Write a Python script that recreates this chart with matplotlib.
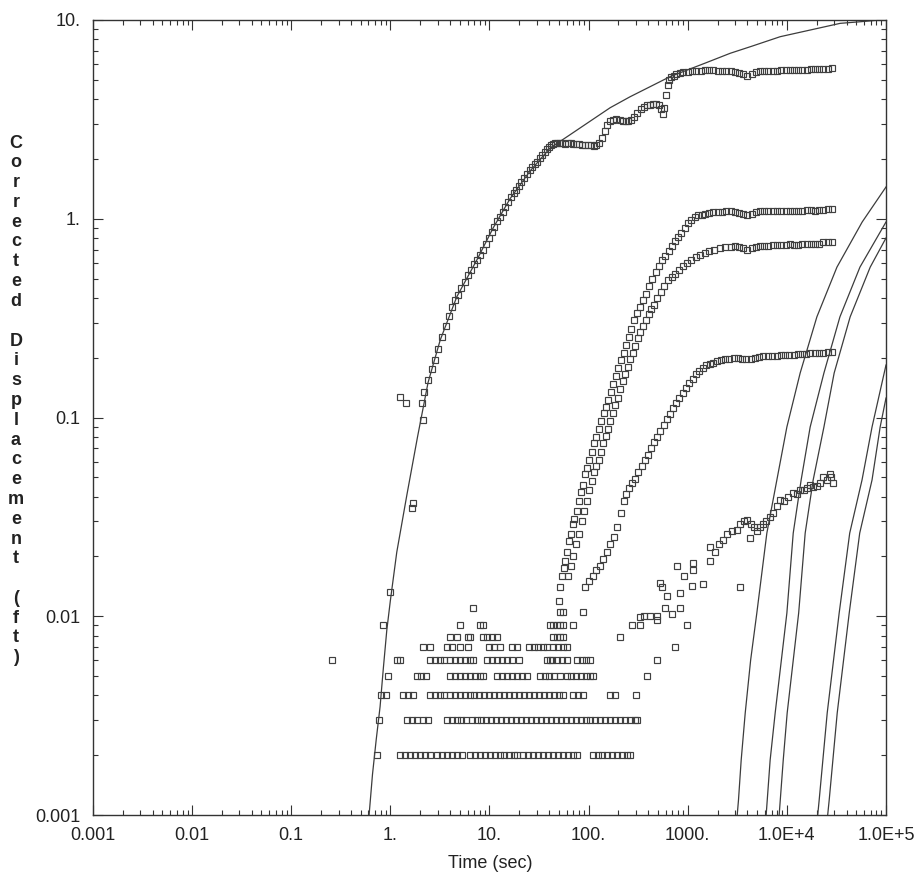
#!/usr/bin/env python3
# -*- coding: utf-8 -*-
"""
Corrected displacement vs time, log-log, with type curves
"""

import numpy as np
import matplotlib
matplotlib.use('Agg')
import matplotlib.pyplot as plt
from matplotlib.ticker import LogLocator, NullFormatter

plt.rcParams['font.family'] = ['Liberation Sans', 'DejaVu Sans']

# ---- theoretical curve through the main record ----
curve_t = [0.61, 0.66, 0.72, 0.787, 0.85, 0.92, 1.0, 1.16, 1.47, 1.88, 2.40, 3.18, 4.68, 7.45,
           10.9, 16.1, 25.7, 40.9, 63, 100, 165, 262, 400, 664, 1500, 2680, 4500, 8550, 15000,
           34500, 55000, 87000]
curve_y = [0.001, 0.0016, 0.0024, 0.0035, 0.0055, 0.0085, 0.012, 0.021, 0.041, 0.080, 0.150, 0.245, 0.405, 0.62,
           0.90, 1.26, 1.74, 2.27, 2.62, 3.06, 3.62, 4.11, 4.57, 5.19, 6.07, 6.80, 7.40, 8.24, 8.77,
           9.62, 9.80, 10.0]

# ---- steep curves at late time (left to right) ----
steep1_t = [3155, 3250, 3460, 3800, 4310, 4975, 6280, 7925, 10000, 13620, 20080, 32000, 57500, 100000]
steep1_y = [0.001, 0.00119, 0.00189, 0.00326, 0.00602, 0.01038, 0.0262, 0.0485, 0.0896, 0.1675, 0.321, 0.571, 0.963, 1.445]
steep2_t = [6180, 6780, 7620, 10000, 11590, 13930, 17180, 23650, 34300, 54600, 100000]
steep2_y = [0.001, 0.00189, 0.00326, 0.01038, 0.0262, 0.0485, 0.0896, 0.1675, 0.321, 0.571, 0.963]
steep3_t = [8360, 9190, 10070, 13150, 15300, 18420, 23650, 30000, 43500, 69300, 100000]
steep3_y = [0.001, 0.00189, 0.00326, 0.01038, 0.0262, 0.0485, 0.0896, 0.1675, 0.321, 0.571, 0.80]
steep4_t = [20470, 21180, 25520, 33700, 43050, 57300, 72300, 100000]
steep4_y = [0.001, 0.00119, 0.00326, 0.01038, 0.0262, 0.0485, 0.0896, 0.1837]
steep5_t = [25800, 26730, 32200, 42560, 54300, 72300, 87300, 100000]
steep5_y = [0.001, 0.00119, 0.00326, 0.01038, 0.0262, 0.0485, 0.0896, 0.1253]

# ---- series A (follows the curve, steps up to ~5.6) ----
a_t = [0.76, 0.85, 1.0, 1.25, 1.45, 1.65, 1.7, 2.1, 2.15,
       2.2, 2.4, 2.6, 2.8, 3.0, 3.3, 3.6, 3.9, 4.2, 4.5, 4.8, 5.2, 5.6, 6.0, 6.5, 7.0, 7.5, 8.0, 8.6, 9.2, 9.8,
       10.5, 11.2, 12, 12.8, 13.6, 14.5, 15.5, 16.5, 17.5, 18.6, 19.8, 21, 22.5, 24, 25.5, 27, 28.5, 30,
       32, 34, 36, 38, 40, 42, 44, 46,
       48, 51, 54, 58, 62, 66, 70, 75, 80, 86, 92, 98, 105, 112, 120, 128, 136, 145, 155, 165, 178, 190,
       205, 220, 236, 252, 270, 290, 310, 335, 360, 390, 420, 450, 480, 510, 540, 560, 580, 600, 625, 650,
       680, 720, 770, 830, 900,
       1000, 1100, 1200, 1350, 1500, 1650, 1800, 2000, 2200, 2450, 2700, 3000, 3300, 3650, 4000, 4400,
       4850, 5350, 5900, 6500, 7200, 8000, 8800, 9700, 10700, 11800, 13000, 14300, 15800, 17400, 19200,
       21200, 23400, 25800, 28500]
a_y = [0.003, 0.009, 0.0133, 0.127, 0.118, 0.035, 0.037, 0.118, 0.0975,
       0.135, 0.155, 0.175, 0.195, 0.22, 0.255, 0.29, 0.325, 0.36, 0.39, 0.415, 0.45, 0.48, 0.52, 0.55, 0.59, 0.62, 0.66, 0.70, 0.75, 0.80,
       0.86, 0.91, 0.97, 1.02, 1.08, 1.14, 1.21, 1.28, 1.34, 1.40, 1.46, 1.53, 1.60, 1.68, 1.75, 1.82, 1.88, 1.94,
       2.02, 2.09, 2.17, 2.24, 2.29, 2.35, 2.38, 2.40,
       2.40, 2.41, 2.40, 2.39, 2.40, 2.40, 2.39, 2.38, 2.37, 2.36, 2.35, 2.35, 2.34, 2.33, 2.34, 2.40, 2.55, 2.75, 2.95, 3.10, 3.15, 3.18,
       3.15, 3.12, 3.10, 3.12, 3.15, 3.25, 3.40, 3.55, 3.65, 3.72, 3.75, 3.78, 3.80, 3.75, 3.55, 3.35, 3.60, 4.20, 4.70, 5.00,
       5.15, 5.25, 5.35, 5.40, 5.45,
       5.50, 5.52, 5.55, 5.55, 5.58, 5.60, 5.58, 5.57, 5.56, 5.55, 5.55, 5.50, 5.42, 5.32, 5.25, 5.35,
       5.48, 5.55, 5.55, 5.52, 5.55, 5.55, 5.58, 5.58, 5.60, 5.60, 5.60, 5.62, 5.62, 5.65, 5.65,
       5.65, 5.68, 5.70, 5.72]

# ---- series B (plateau ~1.1) ----
b_t = [50, 52, 54, 56, 58, 60, 63, 66, 69, 72, 76, 80, 84, 88, 92, 97, 102, 108, 114, 120,
       127, 134, 142, 150, 158, 167, 177, 188, 200, 212, 225, 240, 255, 270, 290, 310, 330, 355, 380, 410,
       440, 475, 510, 550, 590, 640, 690, 740, 800, 860, 930, 1000, 1080, 1170, 1270, 1380, 1500, 1650, 1800, 2000,
       2200, 2450, 2700, 3000, 3300, 3650, 4000, 4400, 4850, 5350, 5900, 6500, 7200, 8000, 8800, 9700,
       10700, 11800, 13000, 14300, 15800, 17400, 19200, 21200, 23400, 25800, 28500]
b_y = [0.012, 0.014, 0.016, 0.0175, 0.019, 0.021, 0.024, 0.026, 0.029, 0.031, 0.034, 0.038, 0.042, 0.046, 0.052, 0.056, 0.061, 0.067, 0.074, 0.080,
       0.088, 0.096, 0.105, 0.113, 0.122, 0.135, 0.148, 0.162, 0.178, 0.195, 0.212, 0.232, 0.255, 0.28, 0.31, 0.335, 0.36, 0.39, 0.42, 0.46,
       0.50, 0.54, 0.58, 0.62, 0.65, 0.69, 0.73, 0.77, 0.81, 0.85, 0.90, 0.95, 0.99, 1.02, 1.04, 1.05, 1.06, 1.07, 1.08, 1.08,
       1.08, 1.09, 1.09, 1.08, 1.07, 1.06, 1.05, 1.06, 1.08, 1.09, 1.09, 1.09, 1.09, 1.10, 1.10, 1.09,
       1.10, 1.10, 1.10, 1.10, 1.11, 1.11, 1.10, 1.11, 1.11, 1.12, 1.12]

# ---- series C (plateau ~0.75) ----
c_t = [62, 66, 70, 75, 80, 85, 90, 96, 102, 108, 114, 120, 126, 133, 140, 148, 156, 165, 175, 185,
       196, 208, 220, 233, 247, 262, 278, 295, 313, 333, 355, 378, 403, 430, 460, 495, 535, 580, 630, 690,
       750, 820, 900, 990, 1090, 1200, 1330, 1480, 1650, 1850, 2100, 2400, 2700,
       3000, 3300, 3650, 4000, 4400, 4850, 5350, 5900, 6500, 7200, 8000, 8800, 9700, 10700, 11800, 13000,
       14300, 15800, 17400, 19200, 21200, 23400, 25800, 28500]
c_y = [0.016, 0.018, 0.020, 0.023, 0.026, 0.030, 0.034, 0.038, 0.043, 0.048, 0.053, 0.057, 0.061, 0.067, 0.074, 0.081, 0.088, 0.096, 0.105, 0.115,
       0.126, 0.139, 0.152, 0.166, 0.18, 0.196, 0.212, 0.23, 0.25, 0.27, 0.29, 0.31, 0.33, 0.35, 0.37, 0.40, 0.43, 0.46, 0.49, 0.51,
       0.53, 0.55, 0.58, 0.60, 0.62, 0.64, 0.66, 0.675, 0.69, 0.70, 0.71, 0.72, 0.725,
       0.73, 0.72, 0.71, 0.70, 0.71, 0.72, 0.73, 0.73, 0.73, 0.74, 0.74, 0.74, 0.74, 0.75, 0.74, 0.74,
       0.75, 0.75, 0.75, 0.75, 0.75, 0.76, 0.76, 0.76]

# ---- series D (plateau ~0.2) ----
d_t = [92, 100, 110, 120, 130, 140, 152, 165, 180, 195, 210, 225, 240, 258, 276, 296, 318, 342, 368, 396,
       426, 458, 492, 530, 570, 615, 660, 710, 765, 825, 890, 960, 1040, 1120, 1210, 1310, 1420, 1540, 1670, 1810,
       1970, 2150, 2350, 2600, 2900,
       3200, 3550, 3900, 4300, 4750, 5250, 5800, 6400, 7100, 7900, 8700, 9600, 10600, 11700, 12900, 14200,
       15700, 17300, 19100, 21100, 23300, 25700, 28500]
d_y = [0.014, 0.015, 0.016, 0.017, 0.018, 0.0195, 0.021, 0.023, 0.025, 0.028, 0.033, 0.038, 0.041, 0.044, 0.047, 0.049, 0.053, 0.057, 0.061, 0.065,
       0.070, 0.075, 0.080, 0.086, 0.092, 0.098, 0.104, 0.111, 0.118, 0.125, 0.133, 0.141, 0.149, 0.157, 0.165, 0.172, 0.178, 0.183, 0.186, 0.189,
       0.192, 0.194, 0.196, 0.198, 0.199,
       0.200, 0.198, 0.196, 0.197, 0.200, 0.202, 0.203, 0.204, 0.204, 0.205, 0.206, 0.206, 0.207, 0.207, 0.208, 0.208,
       0.209, 0.210, 0.210, 0.211, 0.212, 0.213, 0.214]

# ---- series E (slow rise to ~0.05) ----
e_t = [273, 330, 331, 360, 420, 488, 490, 527, 548, 592, 615, 690, 776, 838, 838, 906, 980, 1097, 1142, 1142,
       1438, 1683, 1683, 1900, 2050, 2291, 2500, 2800, 3130, 3380, 3400, 3700, 3947, 4266, 4300, 4700, 5000, 5380, 5800, 6200,
       6780, 7300, 7900, 8550, 9300, 10200, 11660, 12600, 13600, 14720, 16000, 17200, 18540, 20000, 21500, 23000, 25330, 27000, 28000, 29530]
e_y = [0.009, 0.009, 0.0099, 0.010, 0.010, 0.0096, 0.010, 0.0147, 0.014, 0.011, 0.0127, 0.0103, 0.0178, 0.011, 0.0131, 0.016, 0.009, 0.0142, 0.017, 0.0185,
       0.0146, 0.019, 0.0224, 0.021, 0.023, 0.0242, 0.026, 0.027, 0.0272, 0.0141, 0.029, 0.030, 0.0305, 0.0247, 0.029, 0.028, 0.027, 0.0282, 0.029, 0.030,
       0.0317, 0.033, 0.036, 0.0385, 0.038, 0.040, 0.0416, 0.041, 0.043, 0.0432, 0.044, 0.046, 0.0449, 0.045, 0.047, 0.050, 0.0485, 0.052, 0.050, 0.0467]

# ---- low level readings (gauge resolution rows) ----
row_002_t = [0.73, 1.25, 1.4, 1.58, 1.77, 2.0, 2.25, 2.5, 2.95, 3.3, 3.7, 4.2, 4.7, 5.3, 6.4, 7.2, 8.1, 9.1, 10.2, 11.4, 12.7,
             13.9, 15.6, 17.5, 19, 22, 24.7, 27.7, 31, 35, 39, 44, 49, 55, 62, 69, 77, 110, 123, 138, 155, 174, 195, 219, 246, 262]
row_003_t = [1.46, 1.64, 1.85, 2.15, 2.4, 3.7, 4.15, 4.65, 5.2, 5.85, 6.6, 7.4, 8.3, 9.3, 10.4, 11.7, 13.1, 14.7, 16.5, 18.5,
             20.8, 23.4, 26.2, 29.4, 33, 37, 41.6, 46.7, 52.4, 58.8, 66, 74, 83, 93, 104, 117, 131, 147, 165, 185, 208, 234, 262, 294, 309]
row_004_t = [0.8, 0.9, 1.35, 1.5, 1.7, 2.5, 2.8, 3.15, 3.5, 3.95, 4.45, 5.0, 5.6, 6.3, 7.0, 7.9, 8.9, 10, 11.2, 12.5, 14, 15.8,
             17.7, 19.9, 22.3, 25, 28, 31.5, 35.4, 39.7, 44.6, 50, 55, 70, 78, 88, 165, 185, 300]
row_005_t = [0.95, 1.85, 2.05, 2.3, 4.0, 4.5, 5.05, 5.7, 6.4, 7.2, 8.1, 8.6, 12, 13.5, 15.1, 17, 19, 21.4, 24, 32, 36, 40, 45,
             51, 60, 67, 75, 84, 94, 103, 110, 386]
row_006_t = [0.256, 1.16, 1.25, 2.5, 2.8, 3.15, 3.5, 3.95, 4.45, 5.0, 5.6, 6.3, 6.8, 9.5, 10.7, 12, 13.4, 15, 17, 20, 38, 41,
             43, 48, 54, 60, 76, 85, 95, 103, 488]
row_007_t = [2.15, 2.5, 3.7, 4.2, 5.0, 6.0, 10, 11.2, 12.7, 17, 19, 25, 28, 31, 35, 38, 44, 49, 55, 60, 747]
row_008_t = [4.0, 4.7, 6.0, 6.3, 8.6, 9.5, 10.7, 12, 44, 48, 51, 55, 208]
row_009_t = [5.0, 8.0, 8.6, 41, 44, 48, 51, 55, 70]
row_0105_t = [51, 55, 88]
row_011_t = [6.8]

x_ticks = [1e-3, 1e-2, 1e-1, 1, 10, 100, 1000, 1e4, 1e5]
x_tick_labels = ['0.001', '0.01', '0.1', '1.', '10.', '100.', '1000.', '1.0E+4', '1.0E+5']
y_ticks = [1e-3, 1e-2, 1e-1, 1, 10]
y_tick_labels = ['0.001', '0.01', '0.1', '1.', '10.']

ylabel_text = 'Corrected Displacement (ft)'
xlabel_text = 'Time (sec)'


def main():
    fig = plt.figure(figsize=(9.2, 8.77), dpi=100)
    W, H = 920.0, 877.0
    ax = fig.add_axes([93 / W, 1 - 815 / H, (886 - 93) / W, (815 - 20) / H])
    ax.set_xscale('log')
    ax.set_yscale('log')
    ax.set_xlim(1e-3, 1e5)
    ax.set_ylim(1e-3, 10)

    ink = '#333333'
    line_kw = dict(color='#3c3c3c', lw=0.9, zorder=2)
    ax.plot(curve_t, curve_y, **line_kw)
    for t, y in [(steep1_t, steep1_y), (steep2_t, steep2_y), (steep3_t, steep3_y),
                 (steep4_t, steep4_y), (steep5_t, steep5_y)]:
        ax.plot(t, y, **line_kw)

    mk = dict(ls='none', marker='s', ms=3.8, mfc='none', mec='#404040', mew=0.85, zorder=3)
    for t, y in [(a_t, a_y), (b_t, b_y), (c_t, c_y), (d_t, d_y), (e_t, e_y)]:
        ax.plot(t, y, **mk)

    rows = [(row_002_t, 0.002), (row_003_t, 0.003), (row_004_t, 0.004), (row_005_t, 0.005),
            (row_006_t, 0.006), (row_007_t, 0.007), (row_008_t, 0.0079), (row_009_t, 0.009),
            (row_0105_t, 0.0105), (row_011_t, 0.011)]
    for t, lvl in rows:
        ax.plot(t, [lvl] * len(t), **mk)

    # ticks
    ax.set_xticks(x_ticks, x_tick_labels)
    ax.set_yticks(y_ticks, y_tick_labels)
    for axis in (ax.xaxis, ax.yaxis):
        axis.set_minor_locator(LogLocator(base=10, subs=np.arange(2, 10), numticks=100))
        axis.set_minor_formatter(NullFormatter())
    ax.tick_params(which='both', direction='in', top=True, right=True, color=ink, width=0.8)
    ax.tick_params(which='major', length=7, labelsize=13, labelcolor='#222222')
    ax.tick_params(which='minor', length=3.5)
    ax.tick_params(axis='x', which='major', pad=9)
    ax.tick_params(axis='y', which='major', pad=9)
    for sp in ax.spines.values():
        sp.set_color(ink)
        sp.set_linewidth(1.0)

    # labels
    fig.text(490 / W, 1 - 864 / H, xlabel_text, ha='center', va='center',
             fontsize=13, color='#222222')
    for i, ch in enumerate(ylabel_text):
        if ch == ' ':
            continue
        fig.text(16 / W, 1 - (143 + i * 19.8) / H, ch, ha='center', va='center',
                 fontsize=13, fontweight='bold', color='#222222')

    fig.savefig('out.png', dpi=100)


if __name__ == '__main__':
    main()
